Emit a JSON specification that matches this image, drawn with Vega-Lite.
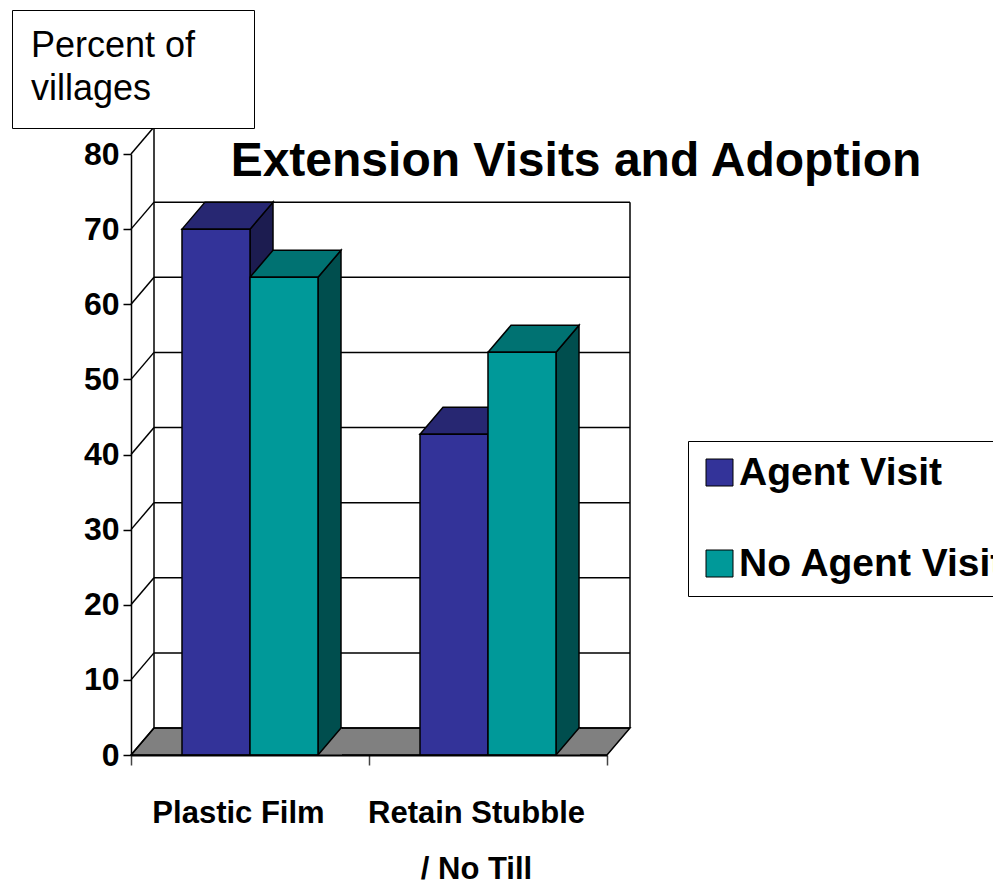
{
  "$schema": "https://vega.github.io/schema/vega-lite/v6.json",
  "width": 476,
  "height": 601,
  "autosize": {"type": "none"},
  "padding": {"left": 131, "top": 154, "right": 386, "bottom": 133},
  "background": "white",
  "title": {
    "text": "Extension Visits and Adoption",
    "font": "Liberation Sans, Arial, sans-serif",
    "fontSize": 48,
    "fontWeight": "bold",
    "color": "black",
    "anchor": "middle",
    "frame": "group",
    "offset": 0,
    "baseline": "alphabetic",
    "dx": 207,
    "dy": 214
  },
  "datasets": {
    "bars": [
      {"crop": "Plastic Film", "visit": "Agent Visit", "value": 70},
      {"crop": "Plastic Film", "visit": "No Agent Visit", "value": 63.6},
      {"crop": "Retain Stubble / No Till", "visit": "Agent Visit", "value": 42.7},
      {"crop": "Retain Stubble / No Till", "visit": "No Agent Visit", "value": 53.6}
    ],
    "grid": [{"tick": 0}, {"tick": 10}, {"tick": 20}, {"tick": 30}, {"tick": 40}, {"tick": 50}, {"tick": 60}, {"tick": 70}],
    "grid80": [{"tick": 0}, {"tick": 10}, {"tick": 20}, {"tick": 30}, {"tick": 40}, {"tick": 50}, {"tick": 60}, {"tick": 70}, {"tick": 80}],
    "one": [{"k": 1}]
  },
  "layer": [
    {
      "data": {"name": "one"},
      "mark": {"type": "point", "shape": "M0,0L476,0L499,-27L23,-27Z", "size": 4, "filled": true, "fill": "#808080", "stroke": "black", "strokeWidth": 1.5, "opacity": 1},
      "encoding": {
        "x": {"datum": "Plastic Film", "type": "nominal", "bandPosition": 0, "title": null},
        "y": {"datum": 0, "type": "quantitative", "title": null}
      }
    },
    {
      "data": {"name": "grid"},
      "mark": {"type": "rule", "color": "black", "strokeWidth": 1.5, "xOffset": 23, "x2Offset": 23, "yOffset": -27},
      "encoding": {
        "x": {"datum": "Plastic Film", "type": "nominal", "bandPosition": 0, "title": null},
        "x2": {"datum": "Retain Stubble / No Till", "bandPosition": 1},
        "y": {"field": "tick", "type": "quantitative", "title": null},
        "strokeDash": {
          "datum": "Percent of villages",
          "type": "nominal",
          "scale": {"range": [[1, 0]]},
          "legend": {
            "orient": "none",
            "legendX": -119,
            "legendY": -144,
            "title": ["Percent of", "villages"],
            "titleFont": "Liberation Sans, Arial, sans-serif",
            "titleFontWeight": "normal",
            "titleFontSize": 36,
            "titleLineHeight": 43,
            "titleColor": "black",
            "titlePadding": 0,
            "titleLimit": 400,
            "labelExpr": "''",
            "labelFontSize": 1,
            "labelOffset": 0,
            "symbolOffset": 203,
            "symbolOpacity": 0,
            "symbolSize": 1,
            "symbolStrokeWidth": 0,
            "strokeColor": "black",
            "fillColor": "white",
            "padding": 19
          }
        }
      }
    },
    {
      "data": {"name": "one"},
      "mark": {"type": "rule", "color": "black", "strokeWidth": 1.5, "xOffset": 23, "x2Offset": 80, "yOffset": -27},
      "encoding": {
        "x": {"datum": "Plastic Film", "type": "nominal", "bandPosition": 0, "title": null},
        "x2": {"datum": "Plastic Film", "bandPosition": 0},
        "y": {"datum": 80, "type": "quantitative", "title": null}
      }
    },
    {
      "data": {"name": "grid80"},
      "mark": {"type": "rule", "color": "black", "strokeWidth": 1.5, "x2Offset": 23, "y2Offset": -27},
      "encoding": {
        "x": {"datum": "Plastic Film", "type": "nominal", "bandPosition": 0, "title": null},
        "x2": {"datum": "Plastic Film", "bandPosition": 0},
        "y": {"field": "tick", "type": "quantitative", "title": null},
        "y2": {"field": "tick"}
      }
    },
    {
      "data": {"name": "one"},
      "mark": {"type": "rule", "color": "black", "strokeWidth": 1.5, "xOffset": 23, "yOffset": -27, "y2Offset": -27},
      "encoding": {
        "x": {"datum": "Plastic Film", "type": "nominal", "bandPosition": 0, "title": null},
        "y": {"datum": 0, "type": "quantitative", "title": null},
        "y2": {"datum": 80}
      }
    },
    {
      "data": {"name": "one"},
      "mark": {"type": "rule", "color": "black", "strokeWidth": 1.5, "xOffset": 23, "yOffset": -27, "y2Offset": -27},
      "encoding": {
        "x": {"datum": "Retain Stubble / No Till", "type": "nominal", "bandPosition": 1, "title": null},
        "y": {"datum": 0, "type": "quantitative", "title": null},
        "y2": {"datum": 70}
      }
    },
    {
      "data": {"name": "bars"},
      "mark": {"type": "point", "shape": "M34,0L57,-27L57,900L34,900Z", "size": 4, "filled": true, "stroke": "black", "strokeWidth": 1.5, "opacity": 1, "clip": true},
      "encoding": {
        "x": {"field": "crop", "type": "nominal", "title": null},
        "xOffset": {"field": "visit", "type": "nominal", "scale": {"type": "band", "domain": ["Agent Visit", "No Agent Visit"], "paddingInner": 0, "paddingOuter": 0.75}},
        "y": {"field": "value", "type": "quantitative", "title": null},
        "color": {"condition": {"test": "datum.visit === 'Agent Visit'", "value": "#1c1c50"}, "value": "#004e4e"}
      }
    },
    {
      "data": {"name": "bars"},
      "mark": {"type": "point", "shape": "M34,0L57,-27L58,-27L58,0Z", "size": 4, "filled": true, "fill": "#808080", "strokeWidth": 0, "opacity": 1},
      "encoding": {
        "x": {"field": "crop", "type": "nominal", "title": null},
        "xOffset": {"field": "visit", "type": "nominal", "scale": {"type": "band", "domain": ["Agent Visit", "No Agent Visit"], "paddingInner": 0, "paddingOuter": 0.75}},
        "y": {"datum": 0, "type": "quantitative", "title": null}
      }
    },
    {
      "data": {"name": "bars"},
      "mark": {"type": "point", "shape": "M34,0L57,-27L59,-27", "size": 4, "filled": false, "color": "black", "strokeWidth": 1.5, "opacity": 1},
      "encoding": {
        "x": {"field": "crop", "type": "nominal", "title": null},
        "xOffset": {"field": "visit", "type": "nominal", "scale": {"type": "band", "domain": ["Agent Visit", "No Agent Visit"], "paddingInner": 0, "paddingOuter": 0.75}},
        "y": {"datum": 0, "type": "quantitative", "title": null}
      }
    },
    {
      "data": {"name": "bars"},
      "mark": {"type": "point", "shape": "M-34,0L34,0L57,-27L-11,-27Z", "size": 4, "filled": true, "stroke": "black", "strokeWidth": 1.5, "opacity": 1},
      "encoding": {
        "x": {"field": "crop", "type": "nominal", "title": null},
        "xOffset": {"field": "visit", "type": "nominal", "scale": {"type": "band", "domain": ["Agent Visit", "No Agent Visit"], "paddingInner": 0, "paddingOuter": 0.75}},
        "y": {"field": "value", "type": "quantitative", "title": null},
        "color": {"condition": {"test": "datum.visit === 'Agent Visit'", "value": "#272772"}, "value": "#007272"}
      }
    },
    {
      "data": {"name": "bars"},
      "mark": {"type": "bar", "stroke": "black", "strokeWidth": 1.5},
      "encoding": {
        "x": {
          "field": "crop",
          "type": "nominal",
          "title": null,
          "scale": {"domain": ["Plastic Film", "Retain Stubble / No Till"], "paddingInner": 0, "paddingOuter": 0},
          "axis": {
            "orient": "bottom",
            "zindex": 1,
            "domainColor": "black",
            "domainWidth": 2,
            "tickBand": "extent",
            "tickColor": "#444444",
            "tickWidth": 1.5,
            "tickSize": 10,
            "labelFont": "Liberation Sans, Arial, sans-serif",
            "labelFontSize": 31,
            "labelFontWeight": "bold",
            "labelColor": "black",
            "labelPadding": 48,
            "labelOffset": -12,
            "labelAngle": 0,
            "labelAlign": "center",
            "labelLineHeight": 56,
            "labelLimit": 500,
            "labelOverlap": false,
            "labelBound": false,
            "labelExpr": "datum.label == 'Retain Stubble / No Till' ? ['Retain Stubble', '/ No Till'] : datum.label"
          }
        },
        "xOffset": {"field": "visit", "type": "nominal", "scale": {"type": "band", "domain": ["Agent Visit", "No Agent Visit"], "paddingInner": 0, "paddingOuter": 0.75}},
        "y": {
          "field": "value",
          "type": "quantitative",
          "title": null,
          "scale": {"domain": [0, 80], "nice": false, "zero": true},
          "axis": {
            "zindex": 1,
            "values": [0, 10, 20, 30, 40, 50, 60, 70, 80],
            "grid": false,
            "domainColor": "black",
            "domainWidth": 1.5,
            "tickColor": "black",
            "tickWidth": 1.5,
            "tickSize": 8,
            "labelFont": "Liberation Sans, Arial, sans-serif",
            "labelFontSize": 32,
            "labelFontWeight": "bold",
            "labelColor": "black",
            "labelPadding": 4,
            "labelOverlap": false,
            "labelBound": false
          }
        },
        "y2": {"datum": 0},
        "color": {
          "field": "visit",
          "type": "nominal",
          "scale": {"domain": ["Agent Visit", "No Agent Visit"], "range": ["#333399", "#009999"]},
          "legend": {
            "orient": "none",
            "legendX": 557,
            "legendY": 287,
            "title": null,
            "direction": "vertical",
            "strokeColor": "black",
            "fillColor": "white",
            "padding": 12,
            "symbolType": "square",
            "symbolSize": 729,
            "symbolStrokeColor": "black",
            "symbolStrokeWidth": 1,
            "symbolOpacity": 1,
            "labelFont": "Liberation Sans, Arial, sans-serif",
            "labelFontSize": 39,
            "labelFontWeight": "bold",
            "labelColor": "black",
            "labelOffset": 0,
            "labelLimit": 500,
            "rowPadding": 51
          }
        }
      }
    }
  ],
  "config": {
    "view": {"stroke": null}
  }
}
